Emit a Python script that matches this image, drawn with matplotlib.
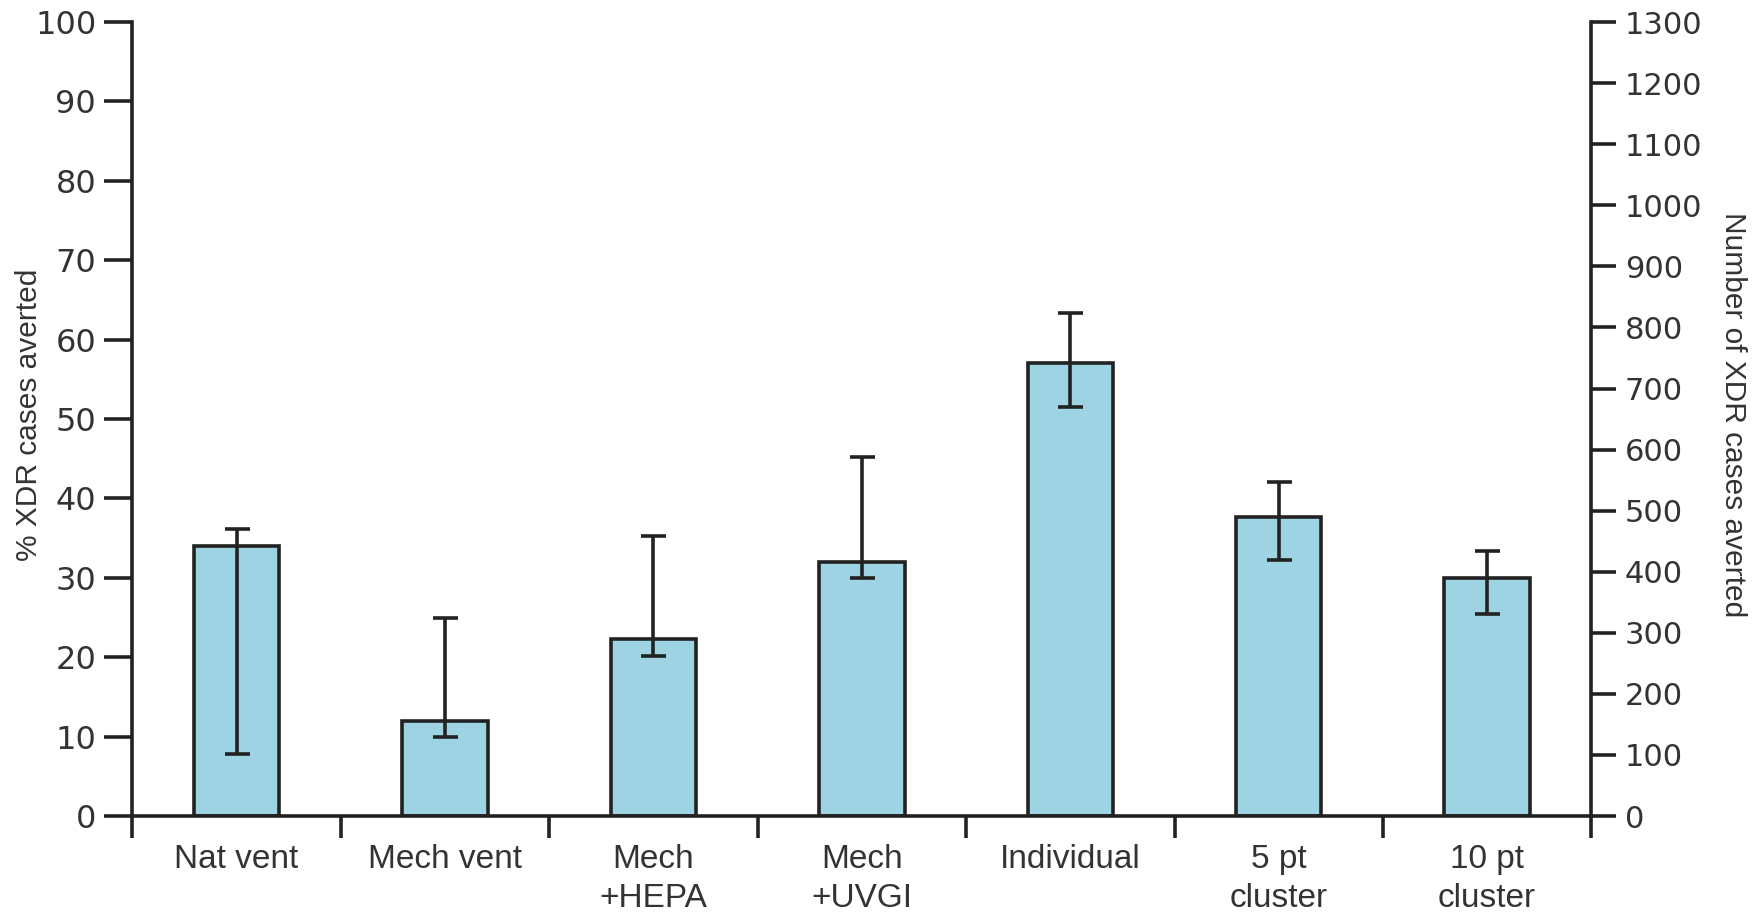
import numpy as np
import matplotlib
matplotlib.use("Agg")
import matplotlib.pyplot as plt
from matplotlib import font_manager

# data
categories = ["Nat vent", "Mech vent", "Mech\n+HEPA", "Mech\n+UVGI", "Individual", "5 pt\ncluster", "10 pt\ncluster"]
pct_averted = [34.0, 12.0, 22.3, 32.0, 57.0, 37.7, 30.0]
err_low = [7.8, 10.0, 20.1, 30.0, 51.5, 32.2, 25.5]
err_high = [36.1, 25.0, 35.3, 45.2, 63.3, 42.1, 33.4]
left_ticks = list(range(0, 101, 10))
right_ticks = list(range(0, 1301, 100))

names = {f.name for f in font_manager.fontManager.ttflist}
label_font = "Liberation Sans Narrow" if "Liberation Sans Narrow" in names else "Liberation Sans"
num_font = "DejaVu Sans"

ink = "#222222"
text_col = "#333333"

fig = plt.figure(figsize=(17.6, 9.21), dpi=100)
ax = fig.add_axes([0.0752, 0.114, 0.829, 0.862])

x = np.arange(len(categories))
pct = np.array(pct_averted)
yerr = np.vstack([pct - np.array(err_low), np.array(err_high) - pct])

ax.bar(x, pct, width=0.41, color="#9dd3e3", edgecolor=ink, linewidth=2.6, zorder=2)
ax.errorbar(x, pct, yerr=yerr, fmt="none", ecolor=ink, elinewidth=2.6,
            capsize=9, capthick=2.6, zorder=3)

ax.set_xlim(-0.5, len(categories) - 0.5)
ax.set_ylim(0, 100)

for s in ["top", "right"]:
    ax.spines[s].set_visible(False)
for s in ["left", "bottom"]:
    ax.spines[s].set_linewidth(2.6)
    ax.spines[s].set_color(ink)

ax.set_yticks(left_ticks)
ax.set_yticklabels([str(t) for t in left_ticks], fontsize=23, family=num_font, color=text_col)
ax.tick_params(axis="y", direction="out", length=20, width=2.6, color=ink, pad=6)

ax.set_xticks(x)
ax.set_xticklabels(categories, fontsize=24, family=label_font, color=text_col, linespacing=1.35)
ax.tick_params(axis="x", which="major", length=0, pad=20)
ax.set_xticks(np.arange(-0.5, len(categories)), minor=True)
ax.tick_params(axis="x", which="minor", direction="out", length=16, width=2.6, color=ink)

ax.set_ylabel("% XDR cases averted", fontsize=21.5, family=label_font, color=text_col)
ax.yaxis.set_label_coords(-0.061, 0.505)

ax2 = ax.twinx()
ax2.set_ylim(0, 1300)
for s in ["top", "left", "bottom"]:
    ax2.spines[s].set_visible(False)
ax2.spines["right"].set_linewidth(2.6)
ax2.spines["right"].set_color(ink)
ax2.set_yticks(right_ticks)
ax2.set_yticklabels([str(t) for t in right_ticks], fontsize=22, family=num_font, color=text_col)
ax2.tick_params(axis="y", direction="out", length=18, width=2.6, color=ink, pad=6)
ax2.set_ylabel("Number of XDR cases averted", fontsize=21.5, family=label_font, color=text_col,
               rotation=-90, va="center")
ax2.yaxis.set_label_coords(1.097, 0.505)

fig.savefig("out.png", dpi=100)
